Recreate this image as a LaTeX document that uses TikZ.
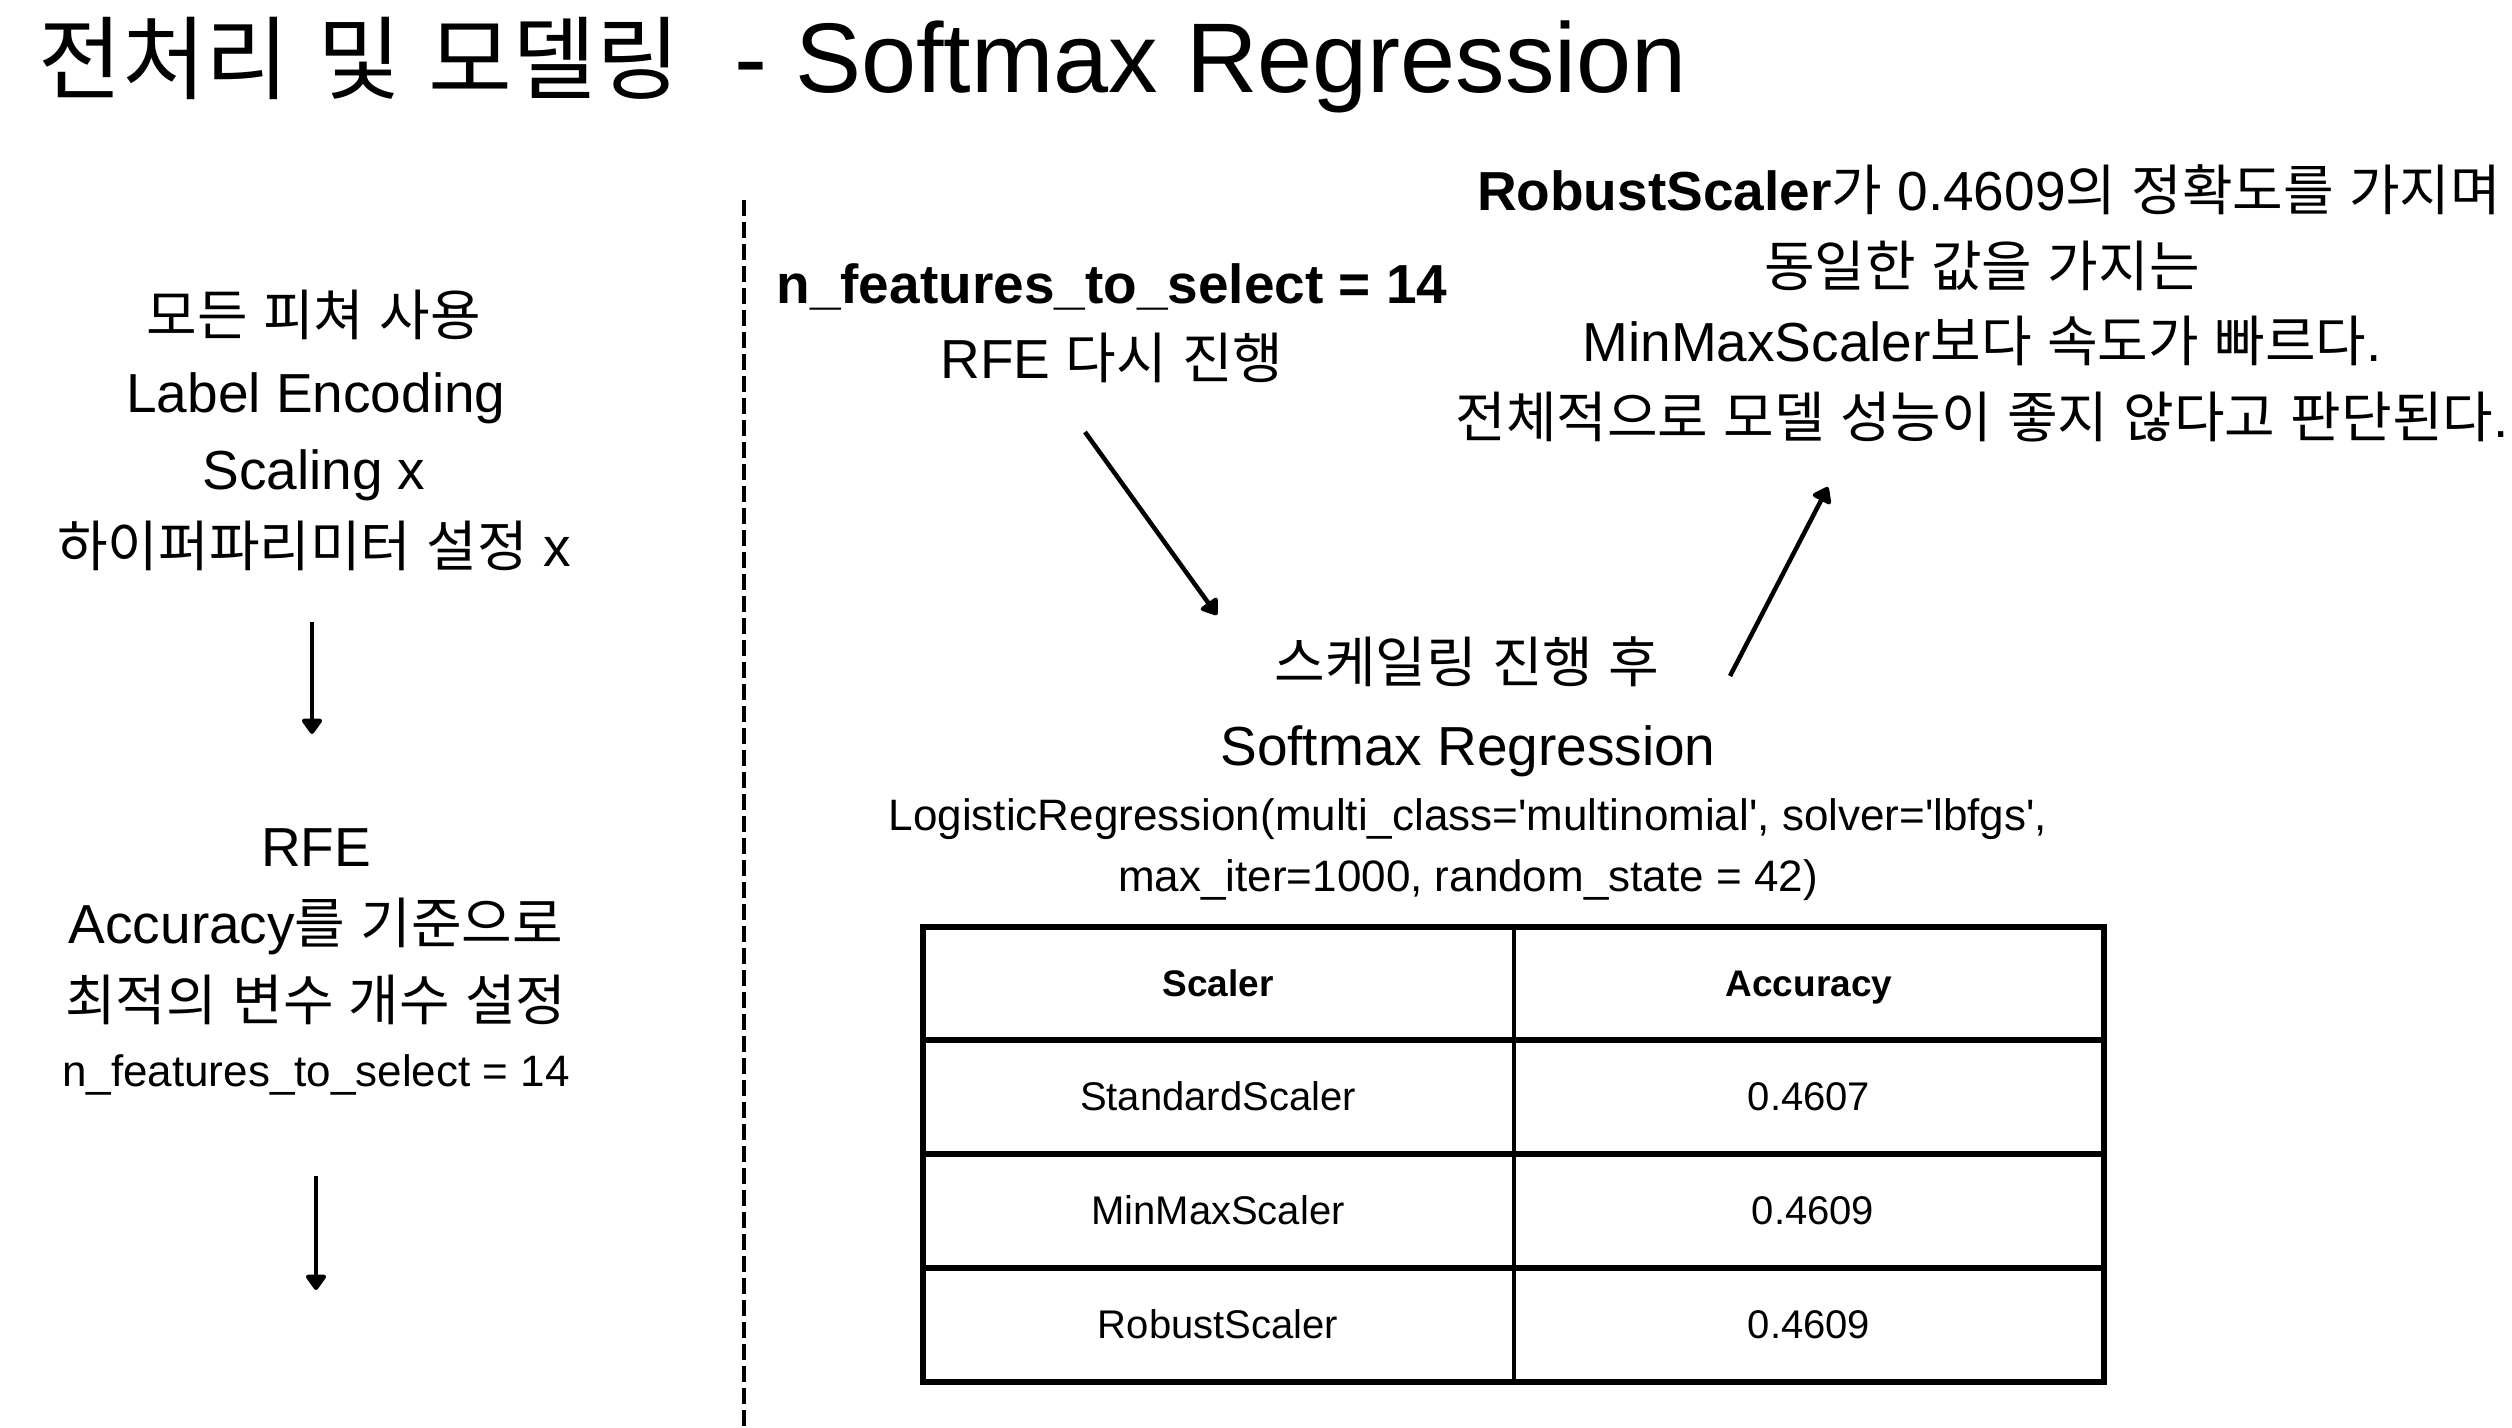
\documentclass[tikz,border=0pt]{standalone}
\usepackage{fontspec}
\setmainfont{Liberation Sans}
\newfontfamily\krfont{Noto Sans CJK KR}
\newfontfamily\krtitlefont[Scale=0.92]{Noto Sans CJK KR}
\newcommand\hg[1]{{\krfont #1}}
\newcommand\hgt[1]{{\krtitlefont #1}}
\usetikzlibrary{arrows.meta}

\tikzset{
  txt/.style={inner sep=0pt, anchor=base, font=\fontsize{27.5}{33}\selectfont},
  smalltxt/.style={inner sep=0pt, anchor=base, font=\fontsize{22}{26}\selectfont},
  titletxt/.style={inner sep=0pt, anchor=base west, font=\fontsize{49.5}{58}\selectfont},
  cell/.style={inner sep=0pt, anchor=base, font=\fontsize{20}{24}\selectfont},
  headcell/.style={inner sep=0pt, anchor=base, font=\fontsize{18.5}{22}\selectfont\bfseries},
  flow/.style={line width=2.25pt, -{Triangle[length=8.5pt, width=11.5pt, round]}},
  divider/.style={line width=2.3pt, dash pattern=on 8pt off 3pt},
  grid/.style={line width=2.6pt, line cap=rect},
}

\begin{document}
\begin{tikzpicture}[x=0.5pt, y=-0.5pt]
  % canvas
  \path[fill=white, use as bounding box] (0,0) rectangle (2512,1428);

  % heading
  \node[titletxt] (title) at (38,93) {\hgt{전처리} \hgt{및} \hgt{모델링}\ \ - Softmax Regression};

  % left column: preprocessing steps
  \node[txt] (l1) at (314,336) {\hg{모든} \hg{피쳐} \hg{사용}};
  \node[txt] (l2) at (316,413) {Label Encoding};
  \node[txt] (l3) at (314,490) {Scaling x};
  \node[txt] (l4) at (314,567) {\hg{하이퍼파리미터} \hg{설정} x};

  \coordinate (a1s) at (312,622);
  \coordinate (a1e) at (312,734);
  \draw[flow] (a1s) -- (a1e);

  \node[txt] (l5) at (316,866) {RFE};
  \node[txt] (l6) at (316,943) {Accuracy\hg{를} \hg{기준으로}};
  \node[txt] (l7) at (316,1020) {\hg{최적의} \hg{변수} \hg{개수} \hg{설정}};
  \node[smalltxt] (l8) at (316,1086) {n\_features\_to\_select = 14};

  \coordinate (a2s) at (316,1176);
  \coordinate (a2e) at (316,1290);
  \draw[flow] (a2s) -- (a2e);

  % separator
  \coordinate (d1) at (744,200);
  \coordinate (d2) at (744,1428);
  \draw[divider] (d1) -- (d2);

  % right side: RFE rerun
  \node[txt, font=\fontsize{27.5}{33}\selectfont\bfseries] (r1) at (1112,304) {n\_features\_to\_select = 14};
  \node[txt] (r2) at (1112,379) {RFE \hg{다시} \hg{진행}};

  \coordinate (a3s) at (1085,432);
  \coordinate (a3e) at (1217,615);
  \draw[flow] (a3s) -- (a3e);

  % model description
  \node[txt] (m1) at (1467,682) {\hg{스케일링} \hg{진행} \hg{후}};
  \node[txt] (m2) at (1468,765) {Softmax Regression};
  \node[smalltxt] (m3) at (1468,830) {LogisticRegression(multi\_class=\textquotesingle multinomial\textquotesingle, solver=\textquotesingle lbfgs\textquotesingle,};
  \node[smalltxt] (m4) at (1468,891) {max\_iter=1000, random\_state = 42)};

  \coordinate (a4s) at (1730,676);
  \coordinate (a4e) at (1828,487);
  \draw[flow] (a4s) -- (a4e);

  % conclusion
  \node[txt] (c1) at (1989,211) {\textbf{RobustScaler}\hg{가} 0.4609\hg{의} \hg{정확도를} \hg{가지며}};
  \node[txt] (c2) at (1982,287) {\hg{동일한} \hg{값을} \hg{가지는}};
  \node[txt] (c3) at (1982,362) {MinMaxScaler\hg{보다} \hg{속도가} \hg{빠르다}.};
  \node[txt] (c4) at (1982,438) {\hg{전체적으로} \hg{모델} \hg{성능이} \hg{좋지} \hg{않다고} \hg{판단된다}.};

  % results table
  \draw[grid] (923,927) rectangle (2104,1382);
  \draw[grid] (923,1040) -- (2104,1040);
  \draw[grid] (923,1154) -- (2104,1154);
  \draw[grid] (923,1268) -- (2104,1268);
  \draw[line width=2.2pt] (1514,927) -- (1514,1382);

  \node[headcell] (h1) at (1218,996) {Scaler};
  \node[headcell] (h2) at (1809,996) {Accuracy};
  \node[cell] (s1) at (1218,1110) {StandardScaler};
  \node[cell] (v1) at (1809,1110) {0.4607};
  \node[cell] (s2) at (1218,1224) {MinMaxScaler};
  \node[cell] (v2) at (1813,1224) {0.4609};
  \node[cell] (s3) at (1218,1338) {RobustScaler};
  \node[cell] (v3) at (1809,1338) {0.4609};
\end{tikzpicture}
\end{document}
